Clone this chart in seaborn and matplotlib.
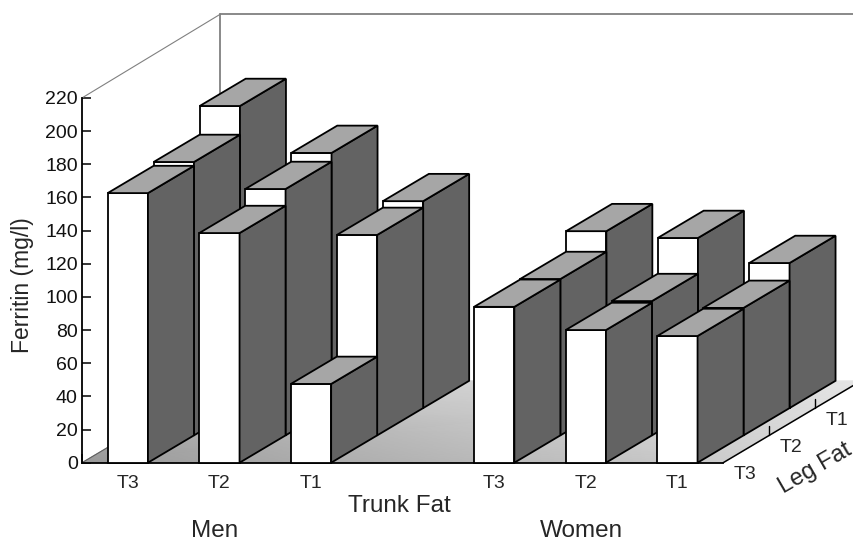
import matplotlib
matplotlib.use('Agg')
import numpy as np
import pandas as pd
import seaborn as sns
import matplotlib.pyplot as plt

# values, rows are leg fat T3 (front), T2, T1 (back)
trunk_labels = ['T3', 'T2', 'T1']
leg_labels = ['T3', 'T2', 'T1']
y_ticks = list(range(0, 221, 20))
men_t3 = [162.6, 164.9, 182.2]
men_t2 = [138.5, 148.6, 153.9]
men_t1 = [47.5, 120.9, 124.8]
women_t3 = [94.0, 94.3, 106.7]
women_t2 = [80.0, 81.0, 102.6]
women_t1 = [76.4, 76.9, 87.5]

# cell index of every trunk fat group, one empty cell between men and women
men_pos = [0, 1, 2]
women_pos = [4, 5, 6]

rows = []
for pos, vals in zip(men_pos + women_pos,
                     [men_t3, men_t2, men_t1, women_t3, women_t2, women_t1]):
    for leg, v in enumerate(vals):
        rows.append({'cell': pos, 'leg': leg, 'ferritin': v})
df = pd.DataFrame(rows)

# fake oblique 3d: going back one leg fat row moves right and up
dx = 46 / 91.6
dy = 27.3 / 1.658
bar_w = 0.44
ncell = 7
nleg = 3
edge = 1.3

sns.set_theme(style='white')
plt.rcParams['font.family'] = ['Liberation Sans', 'DejaVu Sans']

fig = plt.figure(figsize=(8.54, 5.4), dpi=100)
ax = fig.add_axes([0, 0, 1, 1])

# floor
fx = np.array([[0, ncell], [nleg * dx, ncell + nleg * dx]])
fy = np.array([[0, 0], [nleg * dy, nleg * dy]])
floor_shade = [[0.60, 0.80], [0.78, 0.90]]
ax.pcolormesh(fx, fy, np.array(floor_shade), shading='gouraud', cmap='gray',
              vmin=0, vmax=1, zorder=1)

# walls and floor edges
wall_top = 221 + nleg * dy
ax.plot([0, nleg * dx], [220, wall_top], color='#808080', lw=0.8, zorder=1.5)
ax.plot([nleg * dx, nleg * dx], [nleg * dy, wall_top], color='#808080', lw=1.3, zorder=1.5)
ax.plot([nleg * dx, ncell + nleg * dx], [wall_top] * 2, color='#808080', lw=1.3, zorder=1.5)
ax.plot([0, nleg * dx], [0, nleg * dy], color='#606060', lw=0.8, zorder=1.5)
ax.plot([ncell, ncell + nleg * dx], [0, nleg * dy], color='black', lw=1.1, zorder=1.5)

# leg fat ticks on the right floor edge
for d in range(1, nleg):
    ax.plot([ncell + d * dx] * 2, [d * dy, d * dy + 5.5], color='black', lw=1.0, zorder=1.6)

# back row first so the nearer bars paint over it
for leg in reversed(range(nleg)):
    sub = df[df['leg'] == leg]
    z = 10 * (nleg - leg)
    xs = sub['cell'] + 0.5 + leg * dx
    sns.barplot(x=xs.values, y=sub['ferritin'].values, native_scale=True,
                width=bar_w, color='white', saturation=1, edgecolor='black',
                linewidth=edge, bottom=leg * dy, zorder=z, ax=ax)
    for x0, v in zip(xs, sub['ferritin']):
        left, right = x0 - bar_w / 2, x0 + bar_w / 2
        base, top = leg * dy, leg * dy + v
        ax.fill([right, right + dx, right + dx, right],
                [base, base + dy, top + dy, top],
                facecolor='#636363', edgecolor='black', lw=edge, zorder=z)
        ax.fill([left, left + dx, right + dx, right],
                [top, top + dy, top + dy, top],
                facecolor='#a6a6a6', edgecolor='black', lw=edge, zorder=z)

ax.set_xlim(-82 / 91.6, (854 - 82) / 91.6)
ax.set_ylim((462.7 - 540) / 1.658, 462.7 / 1.658)
ax.set_xlabel('')
ax.set_ylabel('')

for s in ['top', 'right']:
    ax.spines[s].set_visible(False)
ax.spines['left'].set_position(('data', 0))
ax.spines['left'].set_bounds(0, 220)
ax.spines['bottom'].set_position(('data', 0))
ax.spines['bottom'].set_bounds(0, ncell)
ax.spines['left'].set_color('black')
ax.spines['bottom'].set_color('black')
ax.spines['left'].set_linewidth(edge)
ax.spines['bottom'].set_linewidth(edge)

ax.set_yticks(y_ticks)
ax.tick_params(axis='y', direction='in', length=6.5, width=1.1, color='black',
               left=True, labelsize=14, pad=3, labelcolor='#111111')
ax.set_xticks(range(ncell + 1))
ax.set_xticklabels([])
ax.set_xticks([p + 0.5 for p in men_pos + women_pos], trunk_labels * 2, minor=True)
ax.tick_params(axis='x', which='major', direction='in', length=6.5, width=1.1,
               color='black', bottom=True)
ax.tick_params(axis='x', which='minor', length=0, labelsize=14, pad=9)

ax.text(-0.655, 107, 'Ferritin (mg/l)', rotation=90, fontsize=16.5, ha='center', va='center')
ax.text(3.46, -26.1, 'Trunk Fat', fontsize=17.5, ha='center', va='center')
ax.text(1.45, -41, 'Men', fontsize=17.5, ha='center', va='center')
ax.text(5.45, -41, 'Women', fontsize=17.5, ha='center', va='center')

for d, lab in enumerate(leg_labels):
    ax.text(ncell + 0.24 + d * dx, -7.2 + d * dy, lab, fontsize=14, ha='center', va='center')
ax.text(ncell + 1.0, -3.2, 'Leg Fat', rotation=30, rotation_mode='anchor', fontsize=17,
        ha='center', va='center')

fig.savefig('out.png', dpi=100)
